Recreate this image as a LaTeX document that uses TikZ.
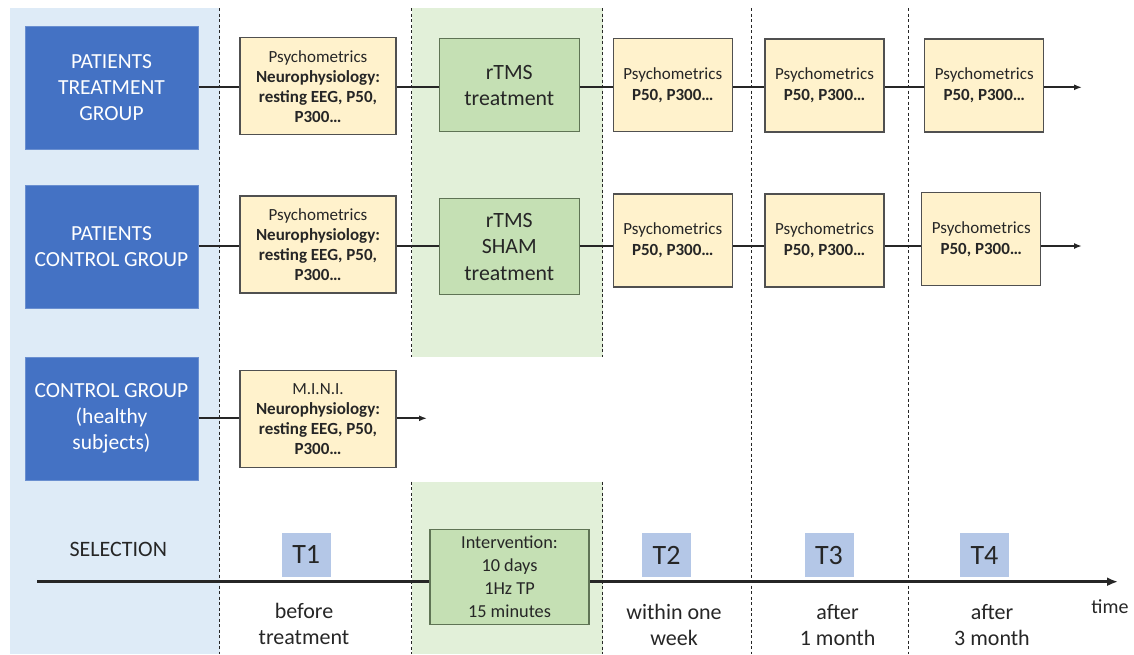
\documentclass[tikz,border=0pt]{standalone}
\usepackage{fontspec}
\setmainfont{Carlito}
\usepackage{tikz}
\usetikzlibrary{positioning, arrows.meta, backgrounds}
\definecolor{bandblue}{HTML}{DEEBF7}
\definecolor{bandgreen}{HTML}{E2F0D9}
\definecolor{groupblue}{HTML}{4472C4}
\definecolor{groupdraw}{HTML}{6A8FD0}
\definecolor{measyellow}{HTML}{FFF2CC}
\definecolor{measdraw}{HTML}{505050}
\definecolor{treatgreen}{HTML}{C5E0B4}
\definecolor{treatdraw}{HTML}{5F7455}
\definecolor{tblue}{HTML}{B4C7E7}
\definecolor{textgrey}{HTML}{262626}

\begin{document}
\begin{tikzpicture}[
                x=1pt, y=-1pt,
                group/.style={draw=groupdraw, line width=1pt, fill=groupblue, text=white, minimum width=173pt, minimum height=123pt, align=center, font=\fontsize{21.5}{26}\selectfont},
                meas/.style={draw=measdraw, line width=1.2pt, fill=measyellow, text=textgrey, minimum width=156pt, minimum height=97pt, align=center, font=\fontsize{17}{20}\selectfont},
                follow/.style={meas, minimum width=119pt, minimum height=93pt, font=\fontsize{17}{21}\selectfont},
                treat/.style={draw=treatdraw, line width=1.2pt, fill=treatgreen, text=textgrey, minimum width=140pt, minimum height=93pt, align=center, font=\fontsize{21.8}{26.5}\selectfont},
                tlabel/.style={fill=tblue, minimum width=49pt, minimum height=44pt, inner sep=0pt, text=textgrey, font=\fontsize{28}{30}\selectfont},
                timetext/.style={align=center, text=textgrey, font=\fontsize{22}{26}\selectfont},
                link/.style={line width=2pt, textgrey},
                axis/.style={line width=3pt, textgrey},
                sep/.style={line width=1pt, dash pattern=on 3pt off 2.5pt, textgrey}
            ]
            \useasboundingbox (0,0) rectangle (1134,654);

            % Hintergrund
            \fill[bandblue] (10,8) rectangle (219.5,654);
            \fill[bandgreen] (411.5,8) rectangle (602.7,356.7);
            \fill[bandgreen] (411.5,481.7) rectangle (602.7,654);
            \draw[sep] (219.5,8) -- (219.5,654);
            \draw[sep] (751.3,8) -- (751.3,654);
            \draw[sep] (908.3,8) -- (908.3,654);
            \draw[sep] (411.5,8) -- (411.5,356.7) (411.5,481.7) -- (411.5,654);
            \draw[sep] (602.7,8) -- (602.7,356.7) (602.7,481.7) -- (602.7,654);

            % Zeitachse
            \coordinate (t0) at (37,581.7);
            \coordinate (t1) at (1118,581.7);
            \draw[axis, -{Latex[length=11pt, width=9pt]}] (t0) -- (t1);

            % Knoten
            \node[group] (g1) at (111.5,87.5) {PATIENTS\\TREATMENT\\GROUP};
            \node[group] (g2) at (111.5,246.5) {PATIENTS\\CONTROL GROUP};
            \node[group] (g3) at (111.5,418.7) {CONTROL GROUP\\(healthy\\subjects)};

            \node[meas] (m1) at (318,86.3) {Psychometrics\\\textbf{Neurophysiology:}\\\textbf{resting EEG, P50,}\\\textbf{P300…}};
            \node[meas] (m2) at (318,244.5) {Psychometrics\\\textbf{Neurophysiology:}\\\textbf{resting EEG, P50,}\\\textbf{P300…}};
            \node[meas] (m3) at (318,419) {M.I.N.I.\\\textbf{Neurophysiology:}\\\textbf{resting EEG, P50,}\\\textbf{P300…}};

            \node[treat] (r1) at (509.3,85.3) {rTMS\\treatment};
            \node[treat, minimum height=96pt] (r2) at (509.3,246.8) {rTMS\\SHAM\\treatment};

            \node[follow] (f1a) at (672.8,85.3) {Psychometrics\\\textbf{P50, P300…}};
            \node[follow] (f2a) at (824.5,85.5) {Psychometrics\\\textbf{P50, P300…}};
            \node[follow] (f3a) at (984.3,85.5) {Psychometrics\\\textbf{P50, P300…}};
            \node[follow] (f1b) at (672.8,240.5) {Psychometrics\\\textbf{P50, P300…}};
            \node[follow] (f2b) at (824.5,240.5) {Psychometrics\\\textbf{P50, P300…}};
            \node[follow] (f3b) at (981.3,239.3) {Psychometrics\\\textbf{P50, P300…}};

            \node[treat, minimum width=159pt, minimum height=95pt, font=\fontsize{18.3}{22.7}\selectfont] (iv) at (509.5,576.7) {Intervention:\\10 days\\1Hz TP\\15 minutes};

            \node[tlabel] (T1) at (306.2,554.7) {T1};
            \node[tlabel] (T2) at (666.6,555) {T2};
            \node[tlabel] (T3) at (829,555) {T3};
            \node[tlabel] (T4) at (984.5,555) {T4};

            \node[timetext] (sel) at (118.3,549.3) {SELECTION};
            \node[timetext] (w1) at (304,623.7) {before\\treatment};
            \node[timetext] (w2) at (674,625) {within one\\week};
            \node[timetext] (w3) at (837.6,625) {after\\1 month};
            \node[timetext] (w4) at (992,625) {after\\3 month};
            \node[timetext, font=\fontsize{20}{24}\selectfont] (tm) at (1110,607) {time};

            % Kanten zwischen Knoten
            \coordinate (row1) at (0,87.3);
            \coordinate (row2) at (0,246);
            \coordinate (e1) at (1082,87.3);
            \coordinate (e2) at (1082,246);
            \coordinate (e3) at (427,418.3);
            \draw[link] (g1.east |- row1) -- (m1.west |- row1);
            \draw[link] (m1.east |- row1) -- (r1.west |- row1);
            \draw[link] (r1.east |- row1) -- (f1a.west |- row1);
            \draw[link] (f1a.east |- row1) -- (f2a.west |- row1);
            \draw[link] (f2a.east |- row1) -- (f3a.west |- row1);
            \draw[link, -{Latex[length=8pt, width=6pt]}] (f3a.east |- row1) -- (e1);
            \draw[link] (g2.east |- row2) -- (m2.west |- row2);
            \draw[link] (m2.east |- row2) -- (r2.west |- row2);
            \draw[link] (r2.east |- row2) -- (f1b.west |- row2);
            \draw[link] (f1b.east |- row2) -- (f2b.west |- row2);
            \draw[link] (f2b.east |- row2) -- (f3b.west |- row2);
            \draw[link, -{Latex[length=8pt, width=6pt]}] (f3b.east |- row2) -- (e2);
            \draw[link] (g3.east |- e3) -- (m3.west |- e3);
            \draw[link, -{Latex[length=8pt, width=6pt]}] (m3.east |- e3) -- (e3);

        \end{tikzpicture}
\end{document}
